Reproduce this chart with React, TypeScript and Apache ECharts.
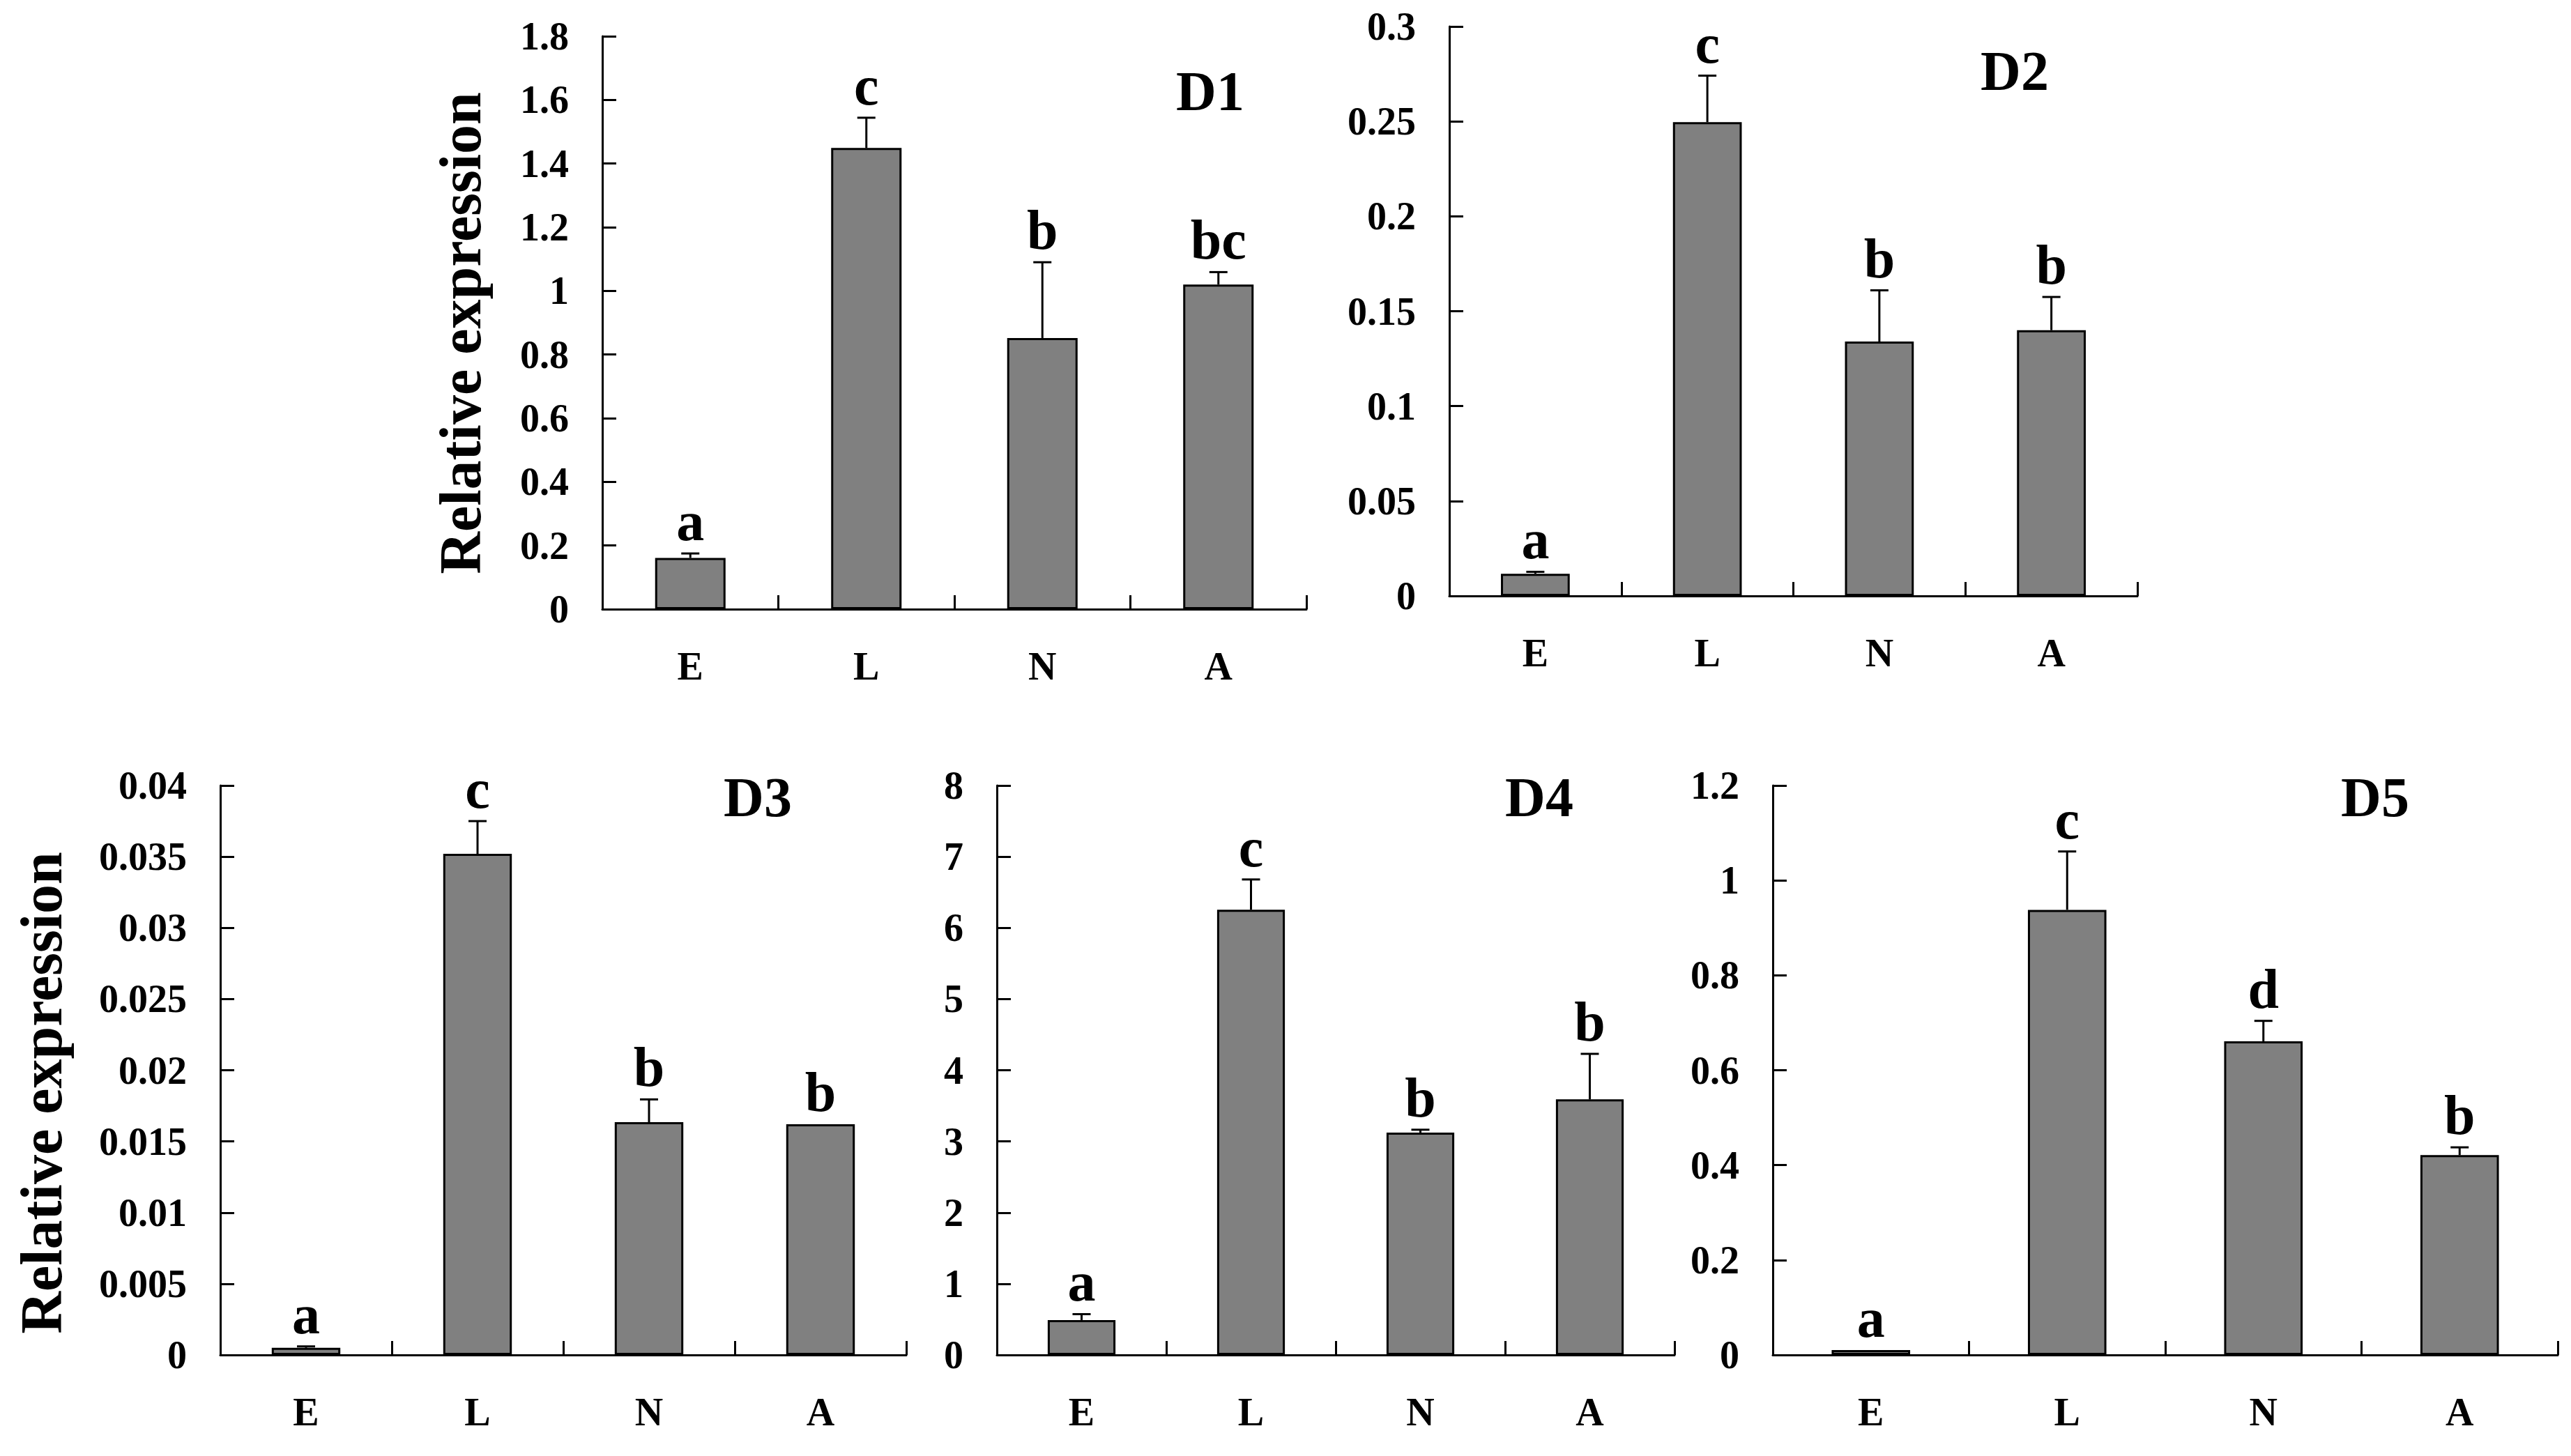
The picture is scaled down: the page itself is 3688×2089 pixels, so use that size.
import React, { useEffect, useRef } from "react";
import * as echarts from "echarts";

const categories = ["E", "L", "N", "A"];

const panelNames = ["D1", "D2", "D3", "D4", "D5"];

const d1Values = [0.161, 1.449, 0.852, 1.02];
const d1Errors = [0.014, 0.095, 0.238, 0.039];
const d1Letters = ["a", "c", "b", "bc"];

const d2Values = [0.0117, 0.2496, 0.134, 0.14];
const d2Errors = [0.001, 0.0245, 0.027, 0.0175];
const d2Letters = ["a", "c", "b", "b"];

const d3Values = [0.0005, 0.0352, 0.01635, 0.0162];
const d3Errors = [0.0001, 0.0023, 0.0016, 0];
const d3Letters = ["a", "c", "b", "b"];

const d4Values = [0.49, 6.255, 3.124, 3.59];
const d4Errors = [0.083, 0.425, 0.04, 0.64];
const d4Letters = ["a", "c", "b", "b"];

const d5Values = [0.0104, 0.938, 0.661, 0.421];
const d5Errors = [0, 0.123, 0.043, 0.0165];
const d5Letters = ["a", "c", "d", "b"];

const yMaxes = [1.8, 0.3, 0.04, 8, 1.2];
const yIntervals = [0.2, 0.05, 0.005, 1, 0.2];

const yAxisTitle = "Relative expression";

const FONT = "'Liberation Serif', 'Times New Roman', serif";

// layout (pixels)
const grids = [
  { left: 864, top: 52, width: 1010, height: 822 },
  { left: 2079, top: 38, width: 987, height: 817 },
  { left: 316, top: 1127, width: 984, height: 817 },
  { left: 1430, top: 1127, width: 972, height: 817 },
  { left: 2543, top: 1127, width: 1126, height: 817 },
];
const titlePos = [
  [1736, 131],
  [2890, 102],
  [1087, 1144],
  [2208, 1144],
  [3407, 1144],
];
const yTitlePos = [
  [660, 478],
  [59, 1568],
];

export default function App() {
  const ref = useRef<HTMLDivElement>(null);

  useEffect(() => {
    document.body.style.margin = "0";
    if (!ref.current) return;
    const chart = echarts.init(ref.current, null, { renderer: "svg" });

    const values = [d1Values, d2Values, d3Values, d4Values, d5Values];
    const errors = [d1Errors, d2Errors, d3Errors, d4Errors, d5Errors];
    const letters = [d1Letters, d2Letters, d3Letters, d4Letters, d5Letters];

    const xAxes: any[] = [];
    const yAxes: any[] = [];
    const series: any[] = [];

    for (let p = 0; p < 5; p++) {
      xAxes.push({
        type: "category",
        gridIndex: p,
        data: categories,
        boundaryGap: true,
        axisLine: { show: true, lineStyle: { color: "#000", width: 3 } },
        axisTick: { show: true, inside: true, length: 20, lineStyle: { color: "#000", width: 3 } },
        axisLabel: {
          margin: 54,
          color: "#000",
          fontFamily: FONT,
          fontWeight: "bold",
          fontSize: 56,
        },
        splitLine: { show: false },
      });
      yAxes.push({
        type: "value",
        gridIndex: p,
        min: 0,
        max: yMaxes[p],
        interval: yIntervals[p],
        axisLine: { show: true, lineStyle: { color: "#000", width: 3 } },
        axisTick: { show: true, inside: true, length: 20, lineStyle: { color: "#000", width: 3 } },
        axisLabel: {
          margin: 48,
          color: "#000",
          fontFamily: FONT,
          fontWeight: "bold",
          fontSize: 56,
        },
        splitLine: { show: false },
      });
      series.push({
        type: "bar",
        xAxisIndex: p,
        yAxisIndex: p,
        data: values[p],
        barWidth: "40%",
        itemStyle: { color: "#808080", borderColor: "#000", borderWidth: 3 },
        silent: true,
      });
      const lets = letters[p];
      series.push({
        type: "custom",
        xAxisIndex: p,
        yAxisIndex: p,
        z: 5,
        clip: false,
        data: values[p].map((v, i) => [i, v, errors[p][i]]),
        renderItem: (params: any, api: any) => {
          const i = api.value(0);
          const v = api.value(1);
          const e = api.value(2);
          const base = api.coord([i, v]);
          const top = api.coord([i, v + e]);
          const children: any[] = [];
          if (e > 0) {
            children.push({
              type: "line",
              shape: { x1: base[0], y1: base[1], x2: top[0], y2: top[1] },
              style: { stroke: "#000", lineWidth: 3 },
            });
            children.push({
              type: "line",
              shape: { x1: top[0] - 13, y1: top[1], x2: top[0] + 13, y2: top[1] },
              style: { stroke: "#000", lineWidth: 3 },
            });
          }
          children.push({
            type: "text",
            x: top[0],
            y: top[1] - 6,
            style: {
              text: lets[params.dataIndex],
              fill: "#000",
              fontFamily: FONT,
              fontWeight: "bold",
              fontSize: 80,
              align: "center",
              verticalAlign: "bottom",
            },
          });
          return { type: "group", children };
        },
      });
    }

    const graphic: any[] = [];
    for (let p = 0; p < 5; p++) {
      graphic.push({
        type: "text",
        x: titlePos[p][0],
        y: titlePos[p][1],
        style: {
          text: panelNames[p],
          fill: "#000",
          fontFamily: FONT,
          fontWeight: "bold",
          fontSize: 80,
          align: "center",
          verticalAlign: "middle",
        },
      });
    }
    for (const pos of yTitlePos) {
      graphic.push({
        type: "text",
        x: pos[0],
        y: pos[1],
        rotation: Math.PI / 2,
        style: {
          text: yAxisTitle,
          fill: "#000",
          fontFamily: FONT,
          fontWeight: "bold",
          fontSize: 84,
          align: "center",
          verticalAlign: "middle",
        },
      });
    }

    chart.setOption({
      animation: false,
      backgroundColor: "#fff",
      grid: grids.map((g) => ({ ...g, containLabel: false })),
      xAxis: xAxes,
      yAxis: yAxes,
      series,
      graphic,
    });

    return () => {
      chart.dispose();
    };
  }, []);

  return <div ref={ref} style={{ width: 3688, height: 2089, background: "#fff" }} />;
}
